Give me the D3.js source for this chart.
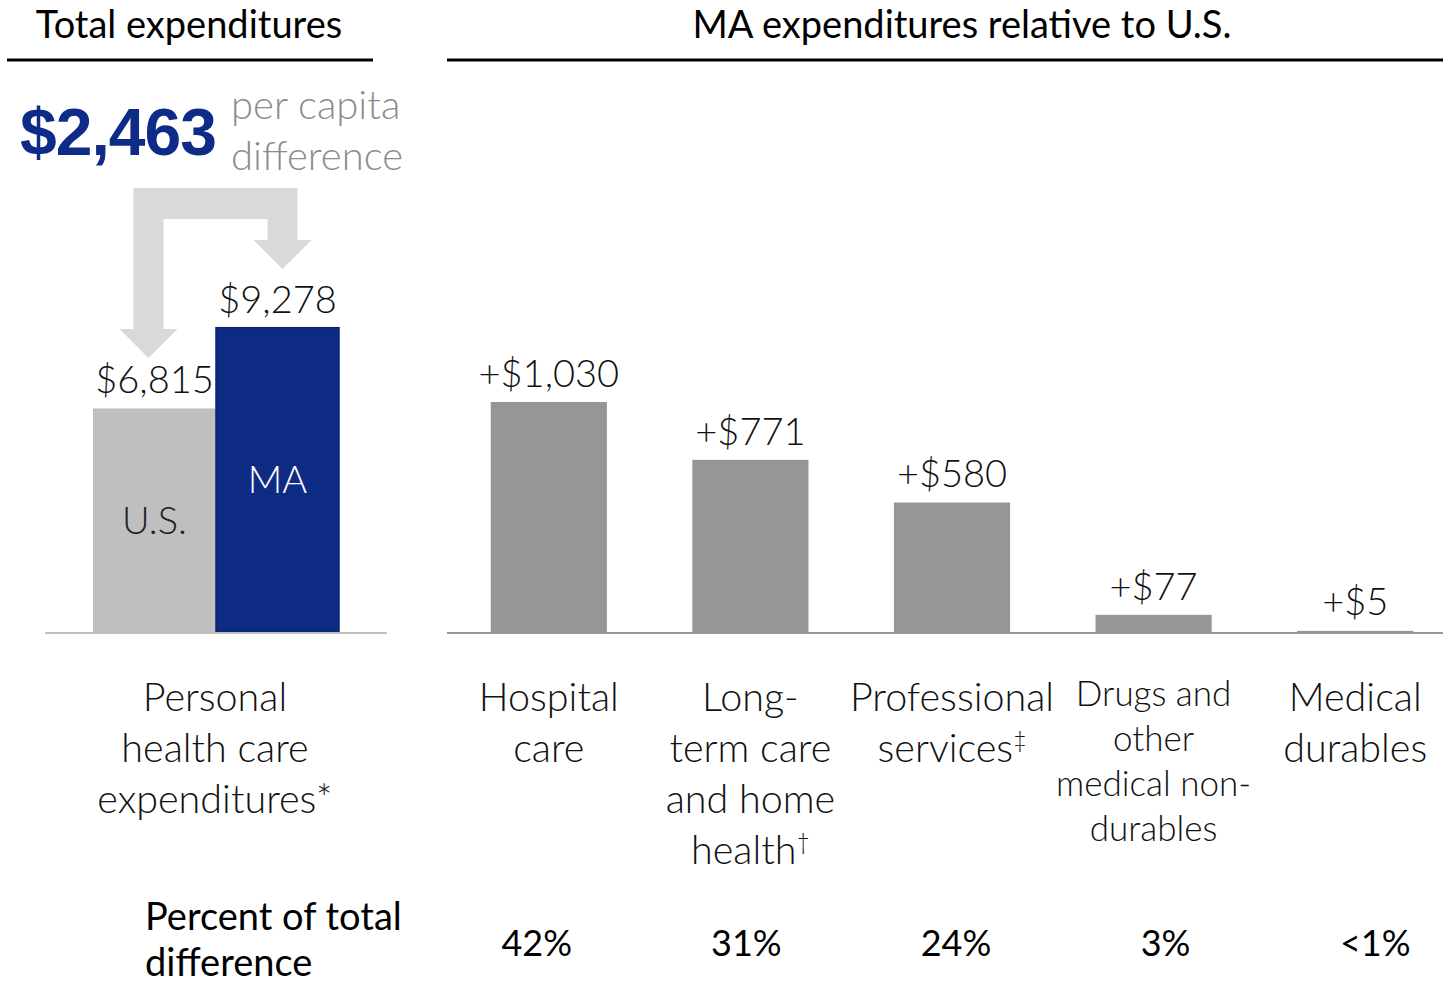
<!DOCTYPE html>
<html>
<head>
<meta charset="utf-8">
<script src="https://cdn.jsdelivr.net/npm/d3@7"></script>
<style>
  body { margin: 0; background: #fff; }
  text { font-family: Lato, "Open Sans", sans-serif; }
</style>
</head>
<body>
<div id="main"></div>
<script>
// data
var totalGroups = ["U.S.", "MA"];
var totalValues = [6815, 9278];
var perCapitaDiff = 2463;

var categories = ["Hospital care", "Long-term care and home health", "Professional services",
                  "Drugs and other medical non-durables", "Medical durables"];
var categoryLines = [
  ["Hospital", "care"],
  ["Long-", "term care", "and home", "health|†"],
  ["Professional", "services|‡"],
  ["Drugs and", "other", "medical non-", "durables"],
  ["Medical", "durables"]
];
var diffValues = [1030, 771, 580, 77, 5];
var percentLabels = ["42%", "31%", "24%", "3%", "<1%"];

var width = 1443, height = 986, baseY = 632;

var svg = d3.select("#main").append("svg")
    .attr("width", width)
    .attr("height", height);

var fmt = d3.format("$,");

// headers
svg.append("text").attr("x", 189).attr("y", 38)
    .attr("text-anchor", "middle").style("font-size", "38px").attr("fill", "#000")
    .text("Total expenditures");
svg.append("line").attr("x1", 7).attr("x2", 373).attr("y1", 60).attr("y2", 60)
    .attr("stroke", "#000").attr("stroke-width", 3);
svg.append("text").attr("x", 962).attr("y", 38)
    .attr("text-anchor", "middle").style("font-size", "38px").attr("fill", "#000")
    .text("MA expenditures relative to U.S.");
svg.append("line").attr("x1", 447).attr("x2", 1443).attr("y1", 60).attr("y2", 60)
    .attr("stroke", "#000").attr("stroke-width", 3);

// ---------- left panel: totals ----------
var xTot = d3.scaleBand().domain(totalGroups).range([93, 339]).padding(0);
var yTot = d3.scaleLinear().domain([0, 10000]).range([baseY, baseY - 328]);

var totData = totalGroups.map(function(g, i) { return {key: g, value: totalValues[i]}; });

// elbow arrow from U.S. over to MA (drawn first, behind the labels)
var lTip = xTot("U.S.") + xTot.bandwidth() / 2 - 6,
    rTip = xTot("MA") + xTot.bandwidth() / 2 + 5,
    sw = 15, hw = 29, arrTop = 188, barT = 31;
var arrowPts = [
  [lTip - sw, arrTop], [rTip + sw, arrTop], [rTip + sw, 240], [rTip + hw, 240], [rTip, 269],
  [rTip - hw, 240], [rTip - sw, 240], [rTip - sw, arrTop + barT], [lTip + sw, arrTop + barT],
  [lTip + sw, 329], [lTip + hw, 329], [lTip, 358], [lTip - hw, 329], [lTip - sw, 329]
];
svg.append("path")
    .attr("d", d3.line()(arrowPts) + "Z")
    .attr("fill", "#d9d9d9");

svg.append("g").selectAll("rect")
    .data(totData).enter().append("rect")
    .attr("x", function(d) { return xTot(d.key); })
    .attr("y", function(d) { return yTot(d.value); })
    .attr("width", xTot.bandwidth())
    .attr("height", function(d) { return baseY - yTot(d.value); })
    .attr("fill", function(d) { return d.key === "MA" ? "#0e2b84" : "#bfbfbf"; })
    .attr("stroke", function(d) { return d.key === "MA" ? "#0a2570" : "none"; })
    .attr("stroke-width", 1.5);

svg.append("g").selectAll("text")
    .data(totData).enter().append("text")
    .attr("x", function(d) { return xTot(d.key) + xTot.bandwidth() / 2; })
    .attr("y", function(d) { return yTot(d.value) - 15; })
    .attr("text-anchor", "middle")
    .style("font-size", "38px").style("font-weight", 300).attr("fill", "#111")
    .text(function(d) { return fmt(d.value); });

svg.append("g").selectAll("text")
    .data(totData).enter().append("text")
    .attr("x", function(d) { return xTot(d.key) + xTot.bandwidth() / 2; })
    .attr("y", function(d) { return (yTot(d.value) + baseY) / 2; })
    .attr("dy", "0.35em")
    .attr("text-anchor", "middle")
    .style("font-size", "38px").style("font-weight", 300)
    .attr("fill", function(d) { return d.key === "MA" ? "#fff" : "#222"; })
    .text(function(d) { return d.key; });

svg.append("line").attr("x1", 45).attr("x2", 387).attr("y1", baseY + 1).attr("y2", baseY + 1)
    .attr("stroke", "#bfbfbf").attr("stroke-width", 2);

// difference annotation
svg.append("text").attr("x", 20).attr("y", 155)
    .style("font-family", "'Liberation Sans', Arial, sans-serif")
    .style("font-size", "66px").style("font-weight", "bold")
    .style("letter-spacing", "-1px")
    .attr("fill", "#0f2b88")
    .text(fmt(perCapitaDiff));
svg.append("text").attr("x", 231).attr("y", 119)
    .style("font-size", "40px").style("font-weight", 300).attr("fill", "#8c8c8c")
    .text("per capita");
svg.append("text").attr("x", 231).attr("y", 170)
    .style("font-size", "40px").style("font-weight", 300).attr("fill", "#8c8c8c")
    .text("difference");

// category label under the totals
var totLabel = svg.append("text").attr("text-anchor", "middle")
    .style("font-size", "39.5px").style("font-weight", 300).attr("fill", "#111");
["Personal", "health care", "expenditures*"].forEach(function(l, i) {
  totLabel.append("tspan").attr("x", 215).attr("y", 711 + i * 51).text(l);
});

// ---------- right panel: differences ----------
var diffData = categories.map(function(c, i) {
  return {key: c, value: diffValues[i], lines: categoryLines[i], pct: percentLabels[i]};
});

var x = d3.scaleBand().domain(categories).range([448, 1456]).paddingInner(0.424).paddingOuter(0.212);
var y = d3.scaleLinear().domain([0, 1000]).range([baseY, baseY - 223.3]);

svg.append("g").selectAll("rect")
    .data(diffData).enter().append("rect")
    .attr("x", function(d) { return x(d.key); })
    .attr("y", function(d) { return y(d.value); })
    .attr("width", x.bandwidth())
    .attr("height", function(d) { return Math.max(2, baseY - y(d.value)); })
    .attr("fill", "#969696");

svg.append("g").selectAll("text")
    .data(diffData).enter().append("text")
    .attr("x", function(d) { return x(d.key) + x.bandwidth() / 2; })
    .attr("y", function(d) { return Math.min(y(d.value), baseY - 2) - 15; })
    .attr("text-anchor", "middle")
    .style("font-size", "38px").style("font-weight", 300).attr("fill", "#111")
    .text(function(d) { return "+" + fmt(d.value); });

svg.append("line").attr("x1", 447).attr("x2", 1443).attr("y1", baseY + 1).attr("y2", baseY + 1)
    .attr("stroke", "#999").attr("stroke-width", 2);

// category labels
var lab = svg.append("g").selectAll("text")
    .data(diffData).enter().append("text")
    .attr("text-anchor", "middle")
    .style("font-weight", 300).attr("fill", "#111")
    .style("font-size", function(d, i) { return i === 3 ? "35px" : "39.5px"; });

lab.each(function(d, i) {
  var t = d3.select(this), cx = x(d.key) + x.bandwidth() / 2;
  var step = i === 3 ? 45 : 51, y0 = i === 3 ? 706 : 711;
  d.lines.forEach(function(l, j) {
    var parts = l.split("|");
    t.append("tspan").attr("x", cx).attr("y", y0 + j * step).text(parts[0]);
    if (parts[1]) {
      t.append("tspan").attr("dy", -14).style("font-size", "23px").text(parts[1]);
    }
  });
});

// percent of total difference row
var pctLabel = svg.append("text").style("font-size", "38px").attr("fill", "#000");
pctLabel.append("tspan").attr("x", 145).attr("y", 930).text("Percent of total");
pctLabel.append("tspan").attr("x", 145).attr("y", 976).text("difference");

var xPct = d3.scaleBand().domain(categories).range([432, 1480]);
svg.append("g").selectAll("text")
    .data(diffData).enter().append("text")
    .attr("x", function(d) { return xPct(d.key) + xPct.bandwidth() / 2; })
    .attr("y", 956)
    .attr("text-anchor", "middle")
    .style("font-size", "36px").attr("fill", "#000")
    .text(function(d) { return d.pct; });
</script>
</body>
</html>
